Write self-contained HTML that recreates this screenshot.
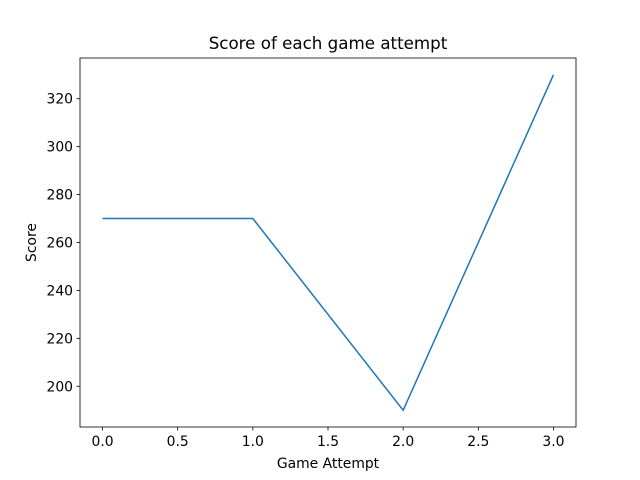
<!DOCTYPE html>
<html><head><meta charset="utf-8"><style>
body{margin:0;background:#fff}
svg{display:block;font-family:"DejaVu Sans","Liberation Sans",sans-serif}
</style></head><body>
<svg id="chart" width="640" height="480"></svg>
<script>
const attempts=[0,1,2,3];
const scores=[270,270,190,330];
const xTicks=[0,0.5,1,1.5,2,2.5,3];
const yTicks=[200,220,240,260,280,300,320];
const L=80,R=576,T=58,B=427;
const xmin=Math.min(...attempts),xmax=Math.max(...attempts),ymin=Math.min(...scores),ymax=Math.max(...scores);
const xp=(xmax-xmin)*0.05,yp=(ymax-ymin)*0.05;
const X=v=>L+(v-(xmin-xp))/((xmax+xp)-(xmin-xp))*(R-L);
const Y=v=>B-(v-(ymin-yp))/((ymax+yp)-(ymin-yp))*(B-T);
const svg=document.getElementById('chart');
const NS='http://www.w3.org/2000/svg';
function mk(tag,attrs,text){const e=document.createElementNS(NS,tag);for(const k in attrs)e.setAttribute(k,attrs[k]);if(text!==undefined)e.textContent=text;svg.appendChild(e);return e;}
let e;
xTicks.forEach(t=>{
 e=mk('line',{x1:X(t),x2:X(t),y1:B,y2:B+3.5,stroke:'#000','stroke-width':0.8});
 
 
 e=mk('text',{x:X(t),y:B+19,'text-anchor':'middle','font-size':13.9},t.toFixed(1));
 
 
});
yTicks.forEach(t=>{
 e=mk('line',{x1:L-3.5,x2:L,y1:Y(t),y2:Y(t),stroke:'#000','stroke-width':0.8});
 
 
 e=mk('text',{x:L-7,y:Y(t)+5,'text-anchor':'end','font-size':13.9},String(t));
 
 
});
e=mk('polyline',{points:attempts.map((a,i)=>X(a)+','+Y(scores[i])).join(' '),fill:'none',stroke:'#1f77b4','stroke-width':1.5});


e=mk('rect',{x:L,y:T,width:R-L,height:B-T,fill:'none',stroke:'#000','stroke-width':0.8});


e=mk('text',{x:(L+R)/2,y:T-9,'text-anchor':'middle','font-size':16.7},'Score of each game attempt');


e=mk('text',{x:(L+R)/2,y:468,'text-anchor':'middle','font-size':13.9},'Game Attempt');


e=mk('text',{x:36,y:(T+B)/2,'text-anchor':'middle','font-size':13.9,transform:'rotate(-90 36 '+((T+B)/2)+')'},'Score');


</script>
</body></html>
